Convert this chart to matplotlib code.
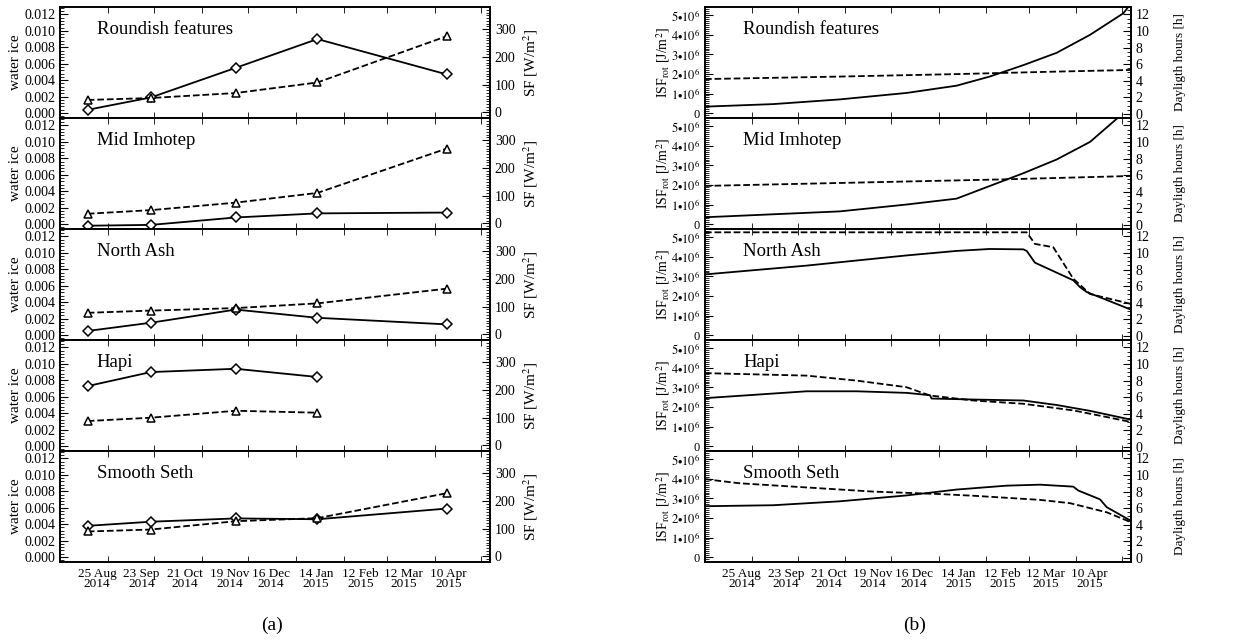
import numpy as np
import matplotlib
matplotlib.use('Agg')
import matplotlib.pyplot as plt
from matplotlib.ticker import MultipleLocator, FixedLocator, FuncFormatter

plt.rcParams['font.family'] = ['Liberation Serif', 'DejaVu Serif']
plt.rcParams['mathtext.fontset'] = 'stix'

t0 = np.datetime64('2014-08-01')


def days(dates):
    return (np.array(dates, dtype='datetime64[D]') - t0).astype(int)


regions = ['Roundish features', 'Mid Imhotep', 'North Ash', 'Hapi', 'Smooth Seth']

# (a) water ice abundance (solid, diamonds) and solar flux SF (dashed, triangles)
obs_dates = ['2014-08-19', '2014-09-29', '2014-11-23', '2015-01-15', '2015-04-09']
ice_roundish = [0.0004, 0.0019, 0.0055, 0.0090, 0.0047]
sf_roundish = [45, 52, 70, 108, 275]
ice_imhotep = [-0.0002, -0.0001, 0.0008, 0.0013, 0.0014]
sf_imhotep = [35, 48, 75, 110, 270]
ice_ash = [0.0005, 0.0015, 0.0031, 0.0021, 0.0013]
sf_ash = [78, 86, 95, 112, 165]
ice_hapi = [0.0073, 0.0090, 0.0094, 0.0084]
sf_hapi = [88, 100, 125, 118]
ice_seth = [0.0038, 0.0043, 0.0047, 0.0046, 0.0059]
sf_seth = [90, 97, 127, 138, 228]

ice_a = [ice_roundish, ice_imhotep, ice_ash, ice_hapi, ice_seth]
sf_a = [sf_roundish, sf_imhotep, sf_ash, sf_hapi, sf_seth]

# (b) rotation-integrated solar flux ISF_rot in 1e6 J/m2 (solid) and daylight hours (dashed)
# x values are days since 2014-08-01
isf_day_roundish = [0, 44.7, 88.3, 132, 164.7, 186.6, 208.5, 230.3, 252.2, 274, 279]
isf_roundish = [0.33, 0.46, 0.70, 1.03, 1.40, 1.87, 2.45, 3.08, 4.0, 5.1, 5.6]
hrs_day_roundish = [0, 88, 164.7, 230, 279]
hrs_roundish = [4.2, 4.5, 4.8, 5.1, 5.3]

isf_day_imhotep = [0, 88.3, 132, 164.7, 186.6, 208.5, 230.3, 252.2, 270.7, 279]
isf_imhotep = [0.35, 0.65, 1.0, 1.3, 1.95, 2.6, 3.3, 4.2, 5.45, 6.0]
hrs_day_imhotep = [0, 197.6, 279]
hrs_imhotep = [4.7, 5.5, 5.9]

isf_day_ash = [0, 66.5, 132, 164.7, 186.6, 208.5, 210.7, 216.1, 241.2, 245.6, 250, 279]
isf_ash = [3.1, 3.55, 4.07, 4.3, 4.4, 4.38, 4.3, 3.7, 2.8, 2.45, 2.2, 1.3]
hrs_day_ash = [0, 210.7, 216.1, 228.1, 241.2, 252.2, 279]
hrs_ash = [12.5, 12.5, 11.1, 10.7, 6.9, 5.05, 3.85]

isf_day_hapi = [0, 66.5, 99.2, 132, 147.3, 148.4, 175.6, 208.5, 230.3, 252.2, 279]
isf_hapi = [2.45, 2.8, 2.8, 2.72, 2.6, 2.43, 2.38, 2.33, 2.1, 1.8, 1.35]
hrs_day_hapi = [0, 66.5, 99.2, 132, 147.3, 175.6, 208.5, 241.2, 263.1, 279]
hrs_hapi = [8.9, 8.6, 8.0, 7.2, 6.2, 5.6, 5.2, 4.4, 3.6, 3.0]

isf_day_seth = [0, 44.7, 88.3, 132, 164.7, 197.6, 219.4, 241.2, 244.5, 258.7, 263.1, 279]
isf_seth = [2.6, 2.65, 2.85, 3.15, 3.45, 3.65, 3.7, 3.6, 3.4, 2.95, 2.55, 1.85]
hrs_day_seth = [0, 22.9, 66.5, 110.1, 153.8, 175.6, 219.4, 239.1, 252.2, 263.1, 279]
hrs_seth = [9.5, 9.0, 8.5, 8.0, 7.7, 7.5, 7.0, 6.6, 6.0, 5.5, 4.3]

isf_b = [(isf_day_roundish, isf_roundish), (isf_day_imhotep, isf_imhotep),
         (isf_day_ash, isf_ash), (isf_day_hapi, isf_hapi), (isf_day_seth, isf_seth)]
hrs_b = [(hrs_day_roundish, hrs_roundish), (hrs_day_imhotep, hrs_imhotep),
         (hrs_day_ash, hrs_ash), (hrs_day_hapi, hrs_hapi), (hrs_day_seth, hrs_seth)]

label_dates = ['2014-08-25', '2014-09-23', '2014-10-21', '2014-11-19', '2014-12-16',
               '2015-01-14', '2015-02-12', '2015-03-12', '2015-04-10']
label_text = ['25 Aug\n2014', '23 Sep\n2014', '21 Oct\n2014', '19 Nov\n2014', '16 Dec\n2014',
              '14 Jan\n2015', '12 Feb\n2015', '12 Mar\n2015', '10 Apr\n2015']
month_ticks = ['2014-09-01', '2014-10-01', '2014-11-01', '2014-12-01', '2015-01-01',
               '2015-02-01', '2015-03-01', '2015-04-01', '2015-05-01']
xmax = days(['2015-05-07'])[0]

fig = plt.figure(figsize=(12.49, 6.4), dpi=100)
W, H = 1249.0, 640.0
tops = [7, 118, 229, 340, 451]
ph = 111


def style_x(ax, bottom):
    ax.set_xlim(0, xmax)
    ax.xaxis.set_major_locator(FixedLocator(days(label_dates)))
    ax.xaxis.set_minor_locator(FixedLocator(days(month_ticks)))
    ax.tick_params(axis='x', which='major', length=0, pad=4, labelsize=9.5)
    ax.tick_params(axis='x', which='minor', direction='in', length=4, top=True, bottom=True)
    if bottom:
        ax.set_xticklabels(label_text, linespacing=0.85)
    else:
        ax.set_xticklabels([])


def style_y(ax, size=10):
    ax.tick_params(axis='y', which='both', direction='in', labelsize=size)
    ax.tick_params(axis='y', which='major', length=6)
    ax.tick_params(axis='y', which='minor', length=3, width=0.6)
    for s in ax.spines.values():
        s.set_linewidth(1.2)


for i, name in enumerate(regions):
    bot = 1 - (tops[i] + ph) / H
    last = i == len(regions) - 1

    # ---- panel (a)
    ax = fig.add_axes([60 / W, bot, 430 / W, ph / H])
    d = days(obs_dates[:len(ice_a[i])])
    ax.plot(d, ice_a[i], '-', color='black', lw=1.3, marker='D', ms=5,
            mfc='white', mec='black', mew=1.1)
    ax.set_ylim(-0.0006, 0.0129)
    ax.yaxis.set_major_locator(MultipleLocator(0.002))
    ax.yaxis.set_minor_locator(MultipleLocator(0.0004))
    ax.yaxis.set_major_formatter(FuncFormatter(lambda v, p: '%.3f' % (v + 0.0)))
    style_y(ax)
    ax.set_ylabel('water ice', fontsize=11)
    ax.yaxis.set_label_coords(-0.088, 0.5)
    style_x(ax, last)
    ax.text(0.085, 0.8, name, transform=ax.transAxes, fontsize=13.5, va='center')

    ax2 = ax.twinx()
    ax2.plot(d, sf_a[i], '--', color='black', lw=1.3, marker='^', ms=6,
             mfc='white', mec='black', mew=1.1)
    ax2.set_ylim(-20, 380)
    ax2.yaxis.set_major_locator(MultipleLocator(100))
    ax2.yaxis.set_minor_locator(MultipleLocator(10))
    style_y(ax2)
    ax2.set_ylabel('SF [W/m$^2$]', fontsize=11)
    ax2.yaxis.set_label_coords(1.072, 0.5)

    # ---- panel (b)
    bx = fig.add_axes([705 / W, bot, 426 / W, ph / H])
    bx.plot(isf_b[i][0], np.array(isf_b[i][1]) * 1e6, '-', color='black', lw=1.3)
    bx.set_ylim(-0.25e6, 5.42e6)
    bx.yaxis.set_major_locator(MultipleLocator(1e6))
    bx.yaxis.set_minor_locator(MultipleLocator(1e5))
    bx.yaxis.set_major_formatter(FuncFormatter(
        lambda v, p: '0' if abs(v) < 1 else r'$%d{\bullet}10^{6}$' % round(v / 1e6)))
    style_y(bx, 9)
    bx.set_ylabel(r'ISF$_{\rm rot}$ [J/m$^2$]', fontsize=10)
    bx.yaxis.set_label_coords(-0.077, 0.5)
    style_x(bx, last)
    bx.text(0.09, 0.8, name, transform=bx.transAxes, fontsize=13.5, va='center')

    bx2 = bx.twinx()
    bx2.plot(hrs_b[i][0], hrs_b[i][1], '--', color='black', lw=1.3)
    bx2.set_ylim(-0.5, 12.9)
    bx2.yaxis.set_major_locator(MultipleLocator(2))
    bx2.yaxis.set_minor_locator(MultipleLocator(0.5))
    style_y(bx2)
    bx2.set_ylabel('Dayligth hours [h]', fontsize=9.5)
    bx2.yaxis.set_label_coords(1.10, 0.5)

fig.text(272 / W, 1 - 625 / H, '(a)', fontsize=14, ha='center', va='center')
fig.text(915 / W, 1 - 625 / H, '(b)', fontsize=14, ha='center', va='center')

fig.savefig('out.png', dpi=100)
